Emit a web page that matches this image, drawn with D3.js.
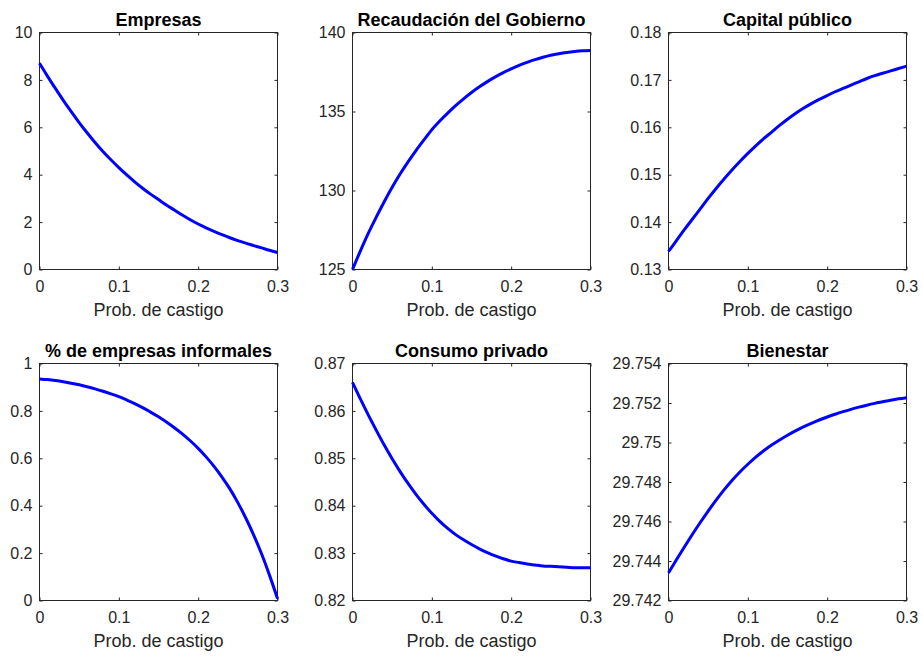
<!DOCTYPE html>
<html>
<head>
<meta charset="utf-8">
<script src="https://cdn.jsdelivr.net/npm/d3@7"></script>
<style>
  body { margin: 0; background: #fff; }
  svg { font-family: "Liberation Sans", Arial, Helvetica, sans-serif; }
</style>
</head>
<body>
<div id="forDrawingGraph"></div>
<script>
// x values shared by all panels
var probCastigo = [0, 0.01, 0.02, 0.03, 0.04, 0.05, 0.06, 0.07, 0.08, 0.09, 0.10,
    0.11, 0.12, 0.13, 0.14, 0.15, 0.16, 0.17, 0.18, 0.19, 0.20,
    0.21, 0.22, 0.23, 0.24, 0.25, 0.26, 0.27, 0.28, 0.29, 0.30];

var empresas = [8.70, 8.16, 7.64, 7.14, 6.66, 6.20, 5.77, 5.36, 4.98, 4.63, 4.30,
    3.99, 3.70, 3.43, 3.18, 2.95, 2.72, 2.51, 2.30, 2.10, 1.92,
    1.76, 1.61, 1.47, 1.34, 1.22, 1.11, 1.01, 0.91, 0.81, 0.72];

var recaudacion = [125.00, 126.18, 127.30, 128.32, 129.29, 130.20, 131.04, 131.81, 132.53, 133.20, 133.85,
    134.40, 134.90, 135.37, 135.80, 136.20, 136.56, 136.89, 137.19, 137.46, 137.70,
    137.92, 138.11, 138.28, 138.43, 138.56, 138.66, 138.74, 138.80, 138.84, 138.86];

var capitalPublico = [0.1338, 0.1361, 0.1384, 0.1406, 0.1428, 0.1450, 0.1471, 0.1491, 0.1510, 0.1528, 0.1545,
    0.1561, 0.1576, 0.1590, 0.1604, 0.1617, 0.1629, 0.1640, 0.1650, 0.1659, 0.1667,
    0.1675, 0.1682, 0.1689, 0.1696, 0.1703, 0.1709, 0.1714, 0.1719, 0.1724, 0.1729];

var informales = [0.935, 0.932, 0.928, 0.923, 0.917, 0.910, 0.902, 0.893, 0.883, 0.872, 0.860,
    0.846, 0.831, 0.814, 0.795, 0.775, 0.753, 0.729, 0.703, 0.674, 0.642,
    0.606, 0.566, 0.521, 0.471, 0.413, 0.348, 0.276, 0.196, 0.106, 0.008];

var consumo = [0.8660, 0.8625, 0.8591, 0.8559, 0.8528, 0.8499, 0.8472, 0.8447, 0.8424, 0.8403, 0.8384,
    0.8367, 0.8352, 0.8339, 0.8328, 0.8318, 0.8309, 0.8301, 0.8294, 0.8288, 0.8283,
    0.8280, 0.8277, 0.8275, 0.8273, 0.8272, 0.8271, 0.8270, 0.8269, 0.8269, 0.8269];

var bienestar = [29.74340, 29.74406, 29.74471, 29.74534, 29.74595, 29.74653, 29.74708, 29.74760, 29.74808, 29.74851, 29.74890,
    29.74926, 29.74958, 29.74987, 29.75013, 29.75037, 29.75059, 29.75079, 29.75097, 29.75114, 29.75129,
    29.75143, 29.75156, 29.75168, 29.75179, 29.75189, 29.75198, 29.75206, 29.75214, 29.75221, 29.75227];

// tick labels
var xTicks = [0, 0.1, 0.2, 0.3];
var yTicksEmpresas = [0, 2, 4, 6, 8, 10];
var yTicksRecaudacion = [125, 130, 135, 140];
var yTicksCapital = [0.13, 0.14, 0.15, 0.16, 0.17, 0.18];
var yTicksInformales = [0, 0.2, 0.4, 0.6, 0.8, 1];
var yTicksConsumo = [0.82, 0.83, 0.84, 0.85, 0.86, 0.87];
var yTicksBienestar = [29.742, 29.744, 29.746, 29.748, 29.75, 29.752, 29.754];

var titles = ["Empresas", "Recaudación del Gobierno", "Capital público",
    "% de empresas informales", "Consumo privado", "Bienestar"];
var xLabel = "Prob. de castigo";

var panels = [
    {title: titles[0], values: empresas, yTicks: yTicksEmpresas},
    {title: titles[1], values: recaudacion, yTicks: yTicksRecaudacion},
    {title: titles[2], values: capitalPublico, yTicks: yTicksCapital},
    {title: titles[3], values: informales, yTicks: yTicksInformales},
    {title: titles[4], values: consumo, yTicks: yTicksConsumo},
    {title: titles[5], values: bienestar, yTicks: yTicksBienestar}
];

// layout of the subplot grid
var lefts = [39, 352, 668],
    tops = [32, 363],
    width = 238,
    height = 237;

var svg = d3.select("#forDrawingGraph").append("svg")
    .attr("width", 923)
    .attr("height", 657);

var fmt = d3.format("~g");

panels.forEach(function (p, i) {
    var col = i % 3, row = Math.floor(i / 3);
    var g = svg.append("g")
        .attr("transform", "translate(" + (lefts[col] + 0.5) + "," + (tops[row] + 0.5) + ")");

    var x = d3.scaleLinear().domain([0, 0.3]).range([0, width]);
    var y = d3.scaleLinear()
        .domain([p.yTicks[0], p.yTicks[p.yTicks.length - 1]])
        .range([height, 0]);

    // bottom axis
    g.append("g")
        .attr("transform", "translate(0," + height + ")")
        .call(d3.axisBottom(x).tickValues(xTicks).tickFormat(fmt).tickSize(-3).tickPadding(11));
    // top ticks
    g.append("g")
        .call(d3.axisTop(x).tickValues(xTicks).tickFormat("").tickSize(-3));
    // left axis
    g.append("g")
        .call(d3.axisLeft(y).tickValues(p.yTicks).tickFormat(fmt).tickSize(-3).tickPadding(7));
    // right ticks
    g.append("g")
        .attr("transform", "translate(" + width + ",0)")
        .call(d3.axisRight(y).tickValues(p.yTicks).tickFormat("").tickSize(-3));

    g.selectAll(".domain").remove();
    g.selectAll(".tick line").attr("stroke", "#262626");
    g.selectAll(".tick text")
        .attr("fill", "#262626")
        .style("font-size", "16px");

    // box
    g.append("rect")
        .attr("width", width)
        .attr("height", height)
        .attr("fill", "none")
        .attr("stroke", "#262626")
        .attr("stroke-width", 1);

    // curve
    var line = d3.line()
        .x(function (d, k) { return x(probCastigo[k]); })
        .y(function (d) { return y(d); })
        .curve(d3.curveMonotoneX);

    g.append("path")
        .datum(p.values)
        .attr("fill", "none")
        .attr("stroke", "#0000ff")
        .attr("stroke-width", 3)
        .attr("stroke-linejoin", "round")
        .attr("d", line);

    // title
    g.append("text")
        .attr("x", width / 2)
        .attr("y", -7)
        .attr("text-anchor", "middle")
        .style("font-size", "18px")
        .style("font-weight", "bold")
        .attr("fill", "#000")
        .text(p.title);

    // x label
    g.append("text")
        .attr("x", width / 2)
        .attr("y", height + 46)
        .attr("text-anchor", "middle")
        .style("font-size", "18px")
        .attr("fill", "#262626")
        .text(xLabel);
});
</script>
</body>
</html>
